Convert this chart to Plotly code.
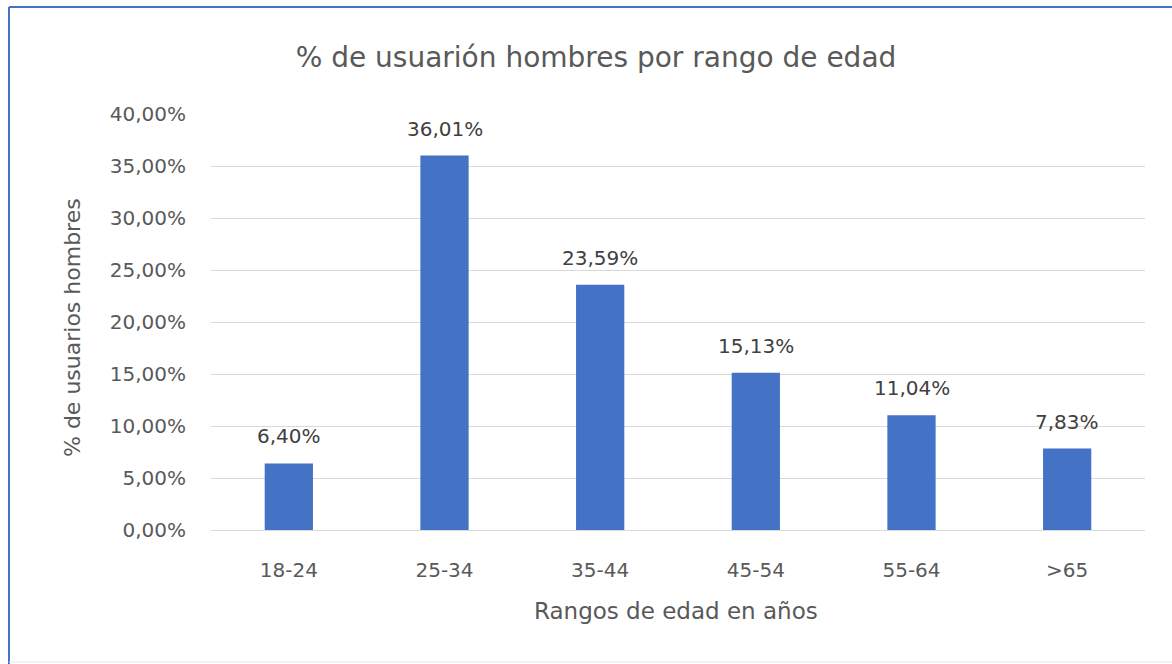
import plotly.graph_objects as go

categories = ["18-24", "25-34", "35-44", "45-54", "55-64", ">65"]
values = [6.40, 36.01, 23.59, 15.13, 11.04, 7.83]  # percent
y_ticks = [0, 5, 10, 15, 20, 25, 30, 35, 40]
y_tick_labels = [f"{t:.2f}%".replace(".", ",") for t in y_ticks]

title_text = "% de usuarión hombres por rango de edad"
x_title = "Rangos de edad en años"
y_title = "% de usuarios hombres"

W, H = 1172, 664
L, R, T, B = 211, 27, 114, 134
pw, ph = W - L - R, H - T - B

FONT = "DejaVu Sans"
GREY = "#595959"

fig = go.Figure()
fig.add_trace(go.Bar(
    x=categories, y=values,
    marker=dict(color="#4472C4", line=dict(width=0)),
    hoverinfo="skip",
))

annotations = []
for c, v in zip(categories, values):
    annotations.append(dict(
        x=c, y=v, xref="x", yref="y",
        text=f"{v:.2f}%".replace(".", ","),
        showarrow=False, yanchor="middle", yshift=27,
        font=dict(family=FONT, size=20, color="#404040"),
    ))

def px_x(p):
    return (p - L) / pw

def px_y(p):
    return (H - B - p) / ph

annotations.append(dict(
    x=px_x(72), y=px_y(328), xref="paper", yref="paper",
    text=y_title, textangle=-90, showarrow=False,
    xanchor="center", yanchor="middle",
    font=dict(family=FONT, size=22, color=GREY),
))
annotations.append(dict(
    x=px_x(676), y=px_y(611), xref="paper", yref="paper",
    text=x_title, showarrow=False,
    xanchor="center", yanchor="middle",
    font=dict(family=FONT, size=23, color=GREY),
))

shapes = [
    dict(type="line", xref="paper", yref="paper",
         x0=px_x(9), x1=px_x(W + 5), y0=px_y(7), y1=px_y(7),
         line=dict(color="#4472C4", width=2)),
    dict(type="line", xref="paper", yref="paper",
         x0=px_x(9), x1=px_x(9), y0=px_y(7), y1=px_y(H + 5),
         line=dict(color="#4472C4", width=2)),
    dict(type="line", xref="paper", yref="paper",
         x0=px_x(9), x1=px_x(W + 5), y0=px_y(662), y1=px_y(662),
         line=dict(color="#E6E6E6", width=1)),
]

fig.update_layout(
    width=W, height=H,
    margin=dict(l=L, r=R, t=T, b=B, pad=0),
    paper_bgcolor="white", plot_bgcolor="white",
    showlegend=False,
    bargap=0.69,
    title=dict(
        text=title_text, x=596 / W, xanchor="center",
        y=1 - 57 / H, yanchor="middle", xref="container", yref="container",
        font=dict(family=FONT, size=28, color=GREY),
    ),
    xaxis=dict(
        showgrid=False, showline=False, zeroline=False,
        ticks="", ticklabelstandoff=26,
        tickfont=dict(family=FONT, size=20, color=GREY),
    ),
    yaxis=dict(
        range=[0, 40], tickvals=y_ticks, ticktext=y_tick_labels,
        showgrid=True, gridcolor="#D9D9D9", gridwidth=1,
        zeroline=True, zerolinecolor="#D9D9D9", zerolinewidth=1,
        showline=False, ticks="", ticklabelstandoff=24,
        tickfont=dict(family=FONT, size=20, color=GREY),
    ),
    annotations=annotations,
    shapes=shapes,
)

fig.write_html("out.html", config={"displayModeBar": False},
               post_script="document.body.style.margin='0';")
